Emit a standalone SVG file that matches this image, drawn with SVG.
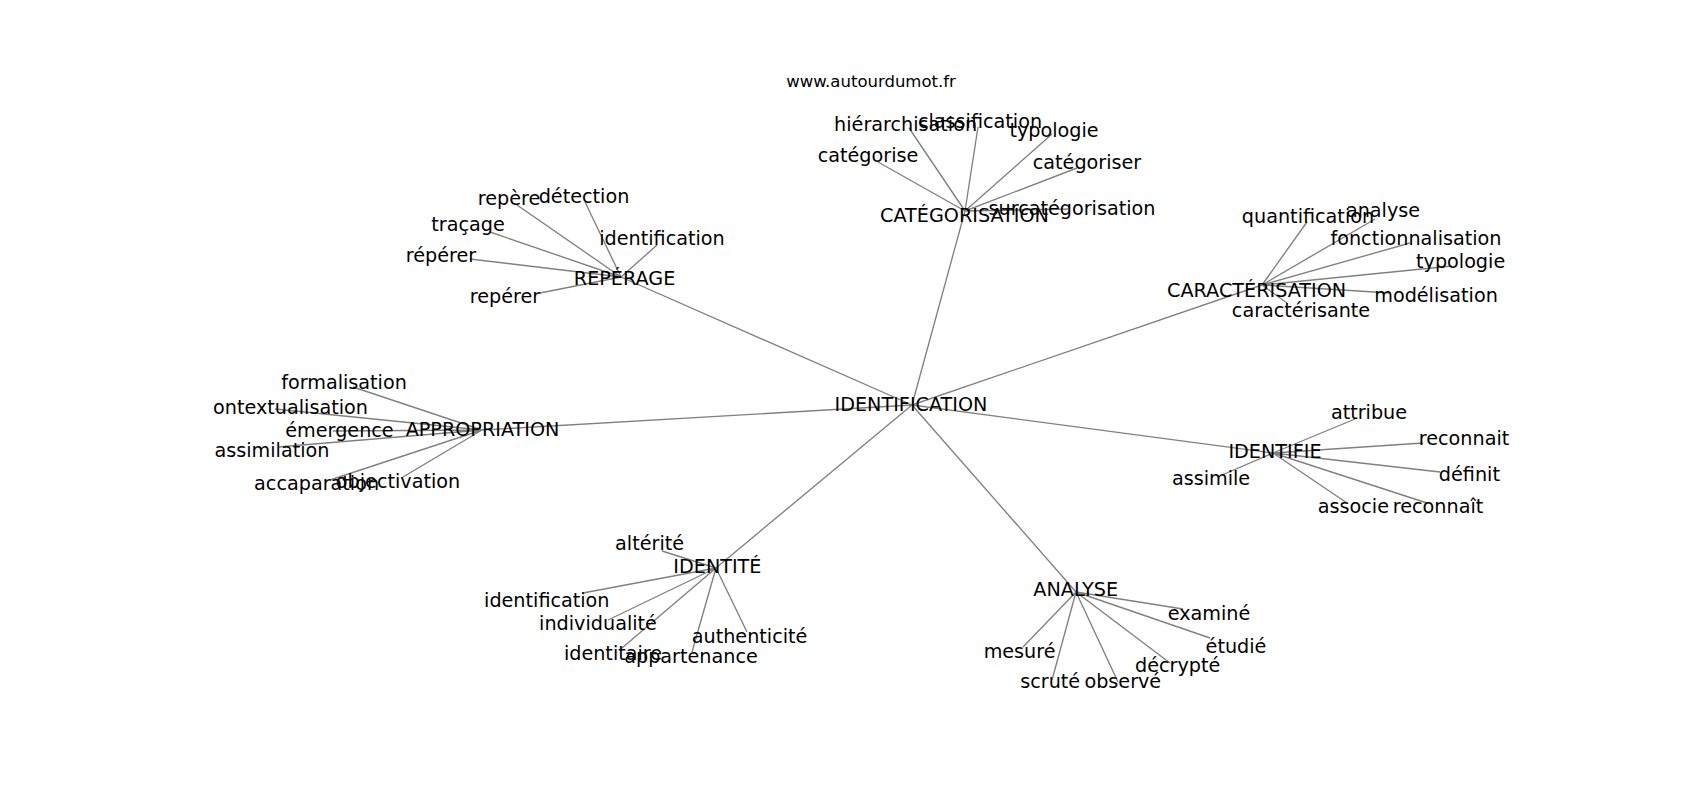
<svg xmlns="http://www.w3.org/2000/svg" width="1700" height="800" viewBox="0 0 1700 800">
<style>
.e{stroke:#808080;stroke-width:1.35;fill:none}
text{font-family:"DejaVu Sans","Liberation Sans",sans-serif;font-size:19.2px;fill:#000;text-anchor:middle}
.t{font-size:16.5px}
</style>
<rect width="1700" height="800" fill="#fff"/>
<text class="t" x="871" y="87">www.autourdumot.fr</text>
<g id="connectors">
<path class="e" d="M912 405L965 211M912 405L621 277M912 405L1262 285M912 405L482 430M912 405L1273 453M912 405L716 568M912 405L1076 592"/>
<path class="e" d="M965 211L909 128M965 211L978 127M965 211L1052 134M965 211L878 162M965 211L1077 168M965 211L1070 209"/>
<path class="e" d="M621 277L517 205M621 277L585 202M621 277L490 232M621 277L657 245M621 277L470 259M621 277L540 293"/>
<path class="e" d="M1262 285L1307 222M1262 285L1375 219M1262 285L1410 243M1262 285L1452 266M1262 285L1390 293M1262 285L1287 303"/>
<path class="e" d="M482 430L353 387M482 430L275 409M482 430L333 431M482 430L278 447M482 430L330 480M482 430L403 477"/>
<path class="e" d="M1273 453L1355 419M1273 453L1423 443M1273 453L1222 475M1273 453L1440 472M1273 453L1347 503M1273 453L1427 503"/>
<path class="e" d="M716 568L662 551M716 568L583 593M716 568L608 620M716 568L622 648M716 568L692 652M716 568L747 632"/>
<path class="e" d="M1076 592L1183 609M1076 592L1210 638M1076 592L1023 647M1076 592L1170 663M1076 592L1052 680M1076 592L1118 682"/>
</g>
<g id="n-identification"><text x="911" y="410.7">IDENTIFICATION</text></g>
<g id="n-categorisation"><text x="964.5" y="222">CATÉGORISATION</text></g>
<g id="n-hierarchisation"><text x="905.6" y="131">hiérarchisation</text></g>
<g id="n-classification"><text x="980" y="128">classification</text></g>
<g id="n-typologie1"><text x="1054" y="137">typologie</text></g>
<g id="n-categorise"><text x="868" y="162">catégorise</text></g>
<g id="n-categoriser"><text x="1087" y="169">catégoriser</text></g>
<g id="n-surcategorisation"><text x="1072" y="215">surcatégorisation</text></g>
<g id="n-reperage"><text x="624.6" y="285">REPÉRAGE</text></g>
<g id="n-repere"><text x="509" y="205">repère</text></g>
<g id="n-detection"><text x="584" y="203">détection</text></g>
<g id="n-tracage"><text x="468" y="231">traçage</text></g>
<g id="n-identification2"><text x="662" y="245">identification</text></g>
<g id="n-reperer1"><text x="441" y="262">répérer</text></g>
<g id="n-reperer2"><text x="505" y="303">repérer</text></g>
<g id="n-caracterisation"><text x="1256.6" y="296.7">CARACTÉRISATION</text></g>
<g id="n-quantification"><text x="1308" y="223">quantification</text></g>
<g id="n-analyse"><text x="1383" y="217">analyse</text></g>
<g id="n-fonctionnalisation"><text x="1416" y="245">fonctionnalisation</text></g>
<g id="n-typologie2"><text x="1460.6" y="268">typologie</text></g>
<g id="n-modelisation"><text x="1436" y="302">modélisation</text></g>
<g id="n-caracterisante"><text x="1301" y="317">caractérisante</text></g>
<g id="n-appropriation"><text x="482.5" y="436">APPROPRIATION</text></g>
<g id="n-formalisation"><text x="344" y="389">formalisation</text></g>
<g id="n-contextualisation"><text x="290.5" y="414">ontextualisation</text></g>
<g id="n-emergence"><text x="339.5" y="437">émergence</text></g>
<g id="n-assimilation"><text x="272" y="457">assimilation</text></g>
<g id="n-accaparation"><text x="316.6" y="490">accaparation</text></g>
<g id="n-objectivation"><text x="398" y="488">objectivation</text></g>
<g id="n-identifie"><text x="1275" y="458.3">IDENTIFIE</text></g>
<g id="n-attribue"><text x="1369" y="419">attribue</text></g>
<g id="n-reconnait1"><text x="1464" y="445">reconnait</text></g>
<g id="n-assimile"><text x="1211" y="485">assimile</text></g>
<g id="n-definit"><text x="1469.4" y="481">définit</text></g>
<g id="n-associe"><text x="1353.4" y="513">associe</text></g>
<g id="n-reconnait2"><text x="1438" y="513">reconnaît</text></g>
<g id="n-identite"><text x="717.4" y="573.3">IDENTITÉ</text></g>
<g id="n-alterite"><text x="649.6" y="550">altérité</text></g>
<g id="n-identification3"><text x="546.8" y="607">identification</text></g>
<g id="n-individualite"><text x="598" y="630">individualité</text></g>
<g id="n-identitaire"><text x="613" y="660">identitaire</text></g>
<g id="n-appartenance"><text x="691" y="663">appartenance</text></g>
<g id="n-authenticite"><text x="749.6" y="643">authenticité</text></g>
<g id="n-analyse2"><text x="1075.7" y="596">ANALYSE</text></g>
<g id="n-examine"><text x="1209" y="620">examiné</text></g>
<g id="n-etudie"><text x="1236" y="653">étudié</text></g>
<g id="n-mesure"><text x="1019.6" y="658">mesuré</text></g>
<g id="n-decrypte"><text x="1177.7" y="672">décrypté</text></g>
<g id="n-scrute"><text x="1050.2" y="688">scruté</text></g>
<g id="n-observe"><text x="1122.8" y="688">observé</text></g>
</svg>
